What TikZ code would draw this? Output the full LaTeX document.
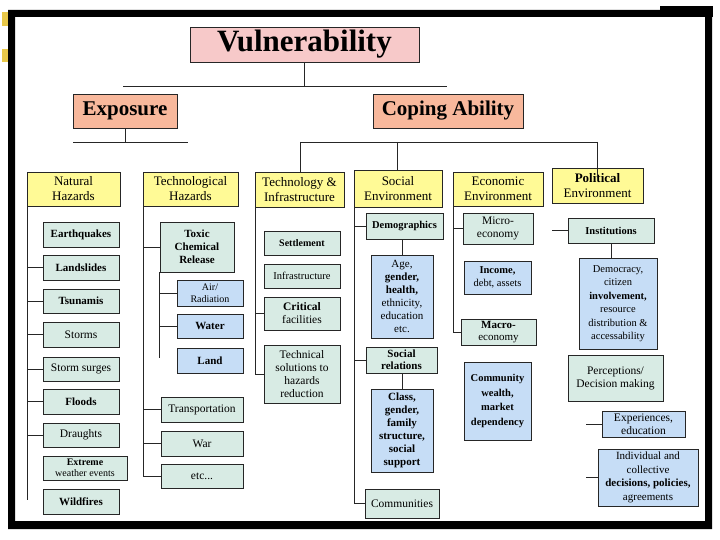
\documentclass[tikz,border=0pt]{standalone}
\usepackage{fontspec}
\setmainfont{Liberation Serif}
\definecolor{pinkc}{HTML}{F7C9C9}
\definecolor{salmonc}{HTML}{F8B89C}
\definecolor{yellowc}{HTML}{FFFA96}
\definecolor{tealc}{HTML}{D8EBE4}
\definecolor{bluec}{HTML}{C6DDF6}
\definecolor{goldc}{HTML}{E8C84A}
\begin{document}
\begin{tikzpicture}[x=1pt,y=-1pt,
  box/.style={draw=black!85, line width=0.9pt, align=center, inner sep=1pt, text=black,
              font=\fontsize{11.5}{13}\selectfont},
  tealbox/.style={box, fill=tealc},
  bluebox/.style={box, fill=bluec},
  hdr/.style={box, fill=yellowc, font=\fontsize{13}{15}\selectfont},
  conn/.style={draw=black!85, line width=0.8pt},
  sz/.style 2 args={minimum width=#1pt, minimum height=#2pt}]
\useasboundingbox (0,0) rectangle (720,540);
\fill[white] (0,0) rectangle (720,540);

% top level
\node[box, fill=pinkc, sz={229}{35}, font=\fontsize{31}{33}\selectfont\bfseries] (vul) at (304.5,44.5) {Vulnerability};
\node[box, fill=salmonc, sz={104}{34}, font=\fontsize{21}{24}\selectfont\bfseries] (expo) at (125,111) {Exposure};
\node[box, fill=salmonc, sz={150}{34}, font=\fontsize{21}{24}\selectfont\bfseries] (cope) at (448,111) {Coping Ability};

% headers
\node[hdr, sz={93}{34}] (nat) at (73.5,189) {Natural\\Hazards};
\node[hdr, sz={95}{34}] (thz) at (190.5,189) {Technological\\Hazards};
\node[hdr, sz={89}{35}] (tinf) at (299.5,189.5) {Technology \&\\Infrastructure};
\node[hdr, sz={88}{37}] (soc) at (398,188.5) {Social\\Environment};
\node[hdr, sz={90}{34}] (eco) at (498,189) {Economic\\Environment};
\node[hdr, sz={91}{35}] (pol) at (597.5,185.5) {{\bfseries Political}\\Environment};

% natural hazards
\node[tealbox, sz={76}{25}, font=\fontsize{11}{13}\selectfont\bfseries] (eq) at (81,234.5) {Earthquakes};
\node[tealbox, sz={76}{25}, font=\fontsize{11}{13}\selectfont\bfseries] (land) at (81,267.5) {Landslides};
\node[tealbox, sz={76}{24}, font=\fontsize{11}{13}\selectfont\bfseries] (tsu) at (81,301) {Tsunamis};
\node[tealbox, sz={76}{25}] (storm) at (81,334.5) {Storms};
\node[tealbox, sz={76}{24}] (surge) at (81,369) {Storm surges};
\node[tealbox, sz={76}{25}, font=\fontsize{11}{13}\selectfont\bfseries] (flood) at (81,401.5) {Floods};
\node[tealbox, sz={76}{24}] (draught) at (81,435) {Draughts};
\node[tealbox, sz={84}{24}, font=\fontsize{10}{11}\selectfont] (extr) at (85,468) {{\bfseries Extreme}\\weather events};
\node[tealbox, sz={76}{25}, font=\fontsize{11}{13}\selectfont\bfseries] (wild) at (81,501.5) {Wildfires};

% technological hazards
\node[tealbox, sz={74}{50}, font=\fontsize{11}{13}\selectfont\bfseries] (toxic) at (197,247) {Toxic\\Chemical\\Release};
\node[bluebox, sz={66}{26}, font=\fontsize{10}{12}\selectfont] (air) at (210,293) {Air/\\Radiation};
\node[bluebox, sz={66}{24}, font=\fontsize{11}{13}\selectfont\bfseries] (water) at (210,326) {Water};
\node[bluebox, sz={66}{25}, font=\fontsize{11}{13}\selectfont\bfseries] (landb) at (210,360.5) {Land};
\node[tealbox, sz={82}{25}] (trans) at (202,409.5) {Transportation};
\node[tealbox, sz={82}{25}] (war) at (202,443.5) {War};
\node[tealbox, sz={82}{24}] (etc) at (202,476) {etc...};

% technology & infrastructure
\node[tealbox, sz={76}{24}, font=\fontsize{10}{12}\selectfont\bfseries] (settl) at (302,243) {Settlement};
\node[tealbox, sz={76}{24}, font=\fontsize{10.5}{12}\selectfont] (infra) at (302,276) {Infrastructure};
\node[tealbox, sz={76}{33}] (crit) at (302,313.5) {{\bfseries Critical}\\facilities};
\node[tealbox, sz={76}{58}] (tech) at (302,374) {Technical\\solutions to\\hazards\\reduction};

% social environment
\node[tealbox, sz={77}{26}, font=\fontsize{10.5}{12}\selectfont\bfseries] (demo) at (404.5,226) {Demographics};
\node[bluebox, sz={62}{83}, font=\fontsize{11}{13}\selectfont] (age) at (402,296.5) {Age,\\{\bfseries gender,}\\{\bfseries health,}\\ethnicity,\\education\\etc.};
\node[tealbox, sz={71}{26}, font=\fontsize{11}{12}\selectfont\bfseries] (srel) at (401.5,360) {Social\\relations};
\node[bluebox, sz={62}{83}, font=\fontsize{11}{13}\selectfont\bfseries] (class) at (402,430.5) {Class,\\gender,\\family\\structure,\\social\\support};
\node[tealbox, sz={74}{29}] (comm) at (402,503.5) {Communities};

% economic environment
\node[tealbox, sz={70}{31}] (micro) at (498,228.5) {Micro-\\economy};
\node[bluebox, sz={67}{33}, font=\fontsize{10.5}{12.5}\selectfont] (inc) at (497.5,277.5) {{\bfseries Income,}\\debt, assets};
\node[tealbox, sz={75}{26}, font=\fontsize{11}{12}\selectfont] (macro) at (498.5,332) {{\bfseries Macro-}\\economy};
\node[bluebox, sz={67}{78}, font=\fontsize{10.5}{14.5}\selectfont\bfseries] (cw) at (497.5,401) {Community\\wealth,\\market\\dependency};

% political environment
\node[tealbox, sz={86}{25}, font=\fontsize{10.5}{12}\selectfont\bfseries] (inst) at (611,230.5) {Institutions};
\node[bluebox, sz={78}{91}, font=\fontsize{10.5}{13.5}\selectfont] (dem) at (618,303.5) {Democracy,\\citizen\\{\bfseries involvement,}\\resource\\distribution \&\\accessability};
\node[tealbox, sz={95}{46}] (perc) at (615.5,378) {Perceptions/\\Decision making};
\node[bluebox, sz={83}{26}] (exper) at (643.5,424) {Experiences,\\education};
\node[bluebox, sz={100}{57}, font=\fontsize{11}{13.5}\selectfont] (indiv) at (648,477.5) {Individual and\\collective\\{\bfseries decisions, policies,}\\agreements};

% junction coordinates
\coordinate (vl) at (123,86);
\coordinate (vr) at (447,86);
\coordinate (el) at (73,142);
\coordinate (er) at (188,142);
\coordinate (cl) at (300,142);
\coordinate (cm) at (397,142);
\coordinate (cr) at (597,142);
\coordinate (pin) at (597,178);
\coordinate (nt) at (27,206);
\coordinate (nb) at (27,500);
\coordinate (ht) at (143,206);
\coordinate (hb) at (143,476);
\coordinate (h2t) at (159,272);
\coordinate (h2b) at (159,358);
\coordinate (it) at (255,207);
\coordinate (ib) at (255,374);
\coordinate (st) at (354,207);
\coordinate (sb) at (354,503.5);
\coordinate (et) at (453,197);
\coordinate (eb) at (453,332);
\coordinate (pl) at (552,230);
\coordinate (pe) at (586,430);

% connectors
\draw[conn] (vul.south) -- (vul.south |- vl);
\draw[conn] (vl) -- (vr);
\draw[conn] (expo.south) -- (expo.south |- el);
\draw[conn] (el) -- (er);
\draw[conn] (cl) -- (cr);
\draw[conn] (cl) -- (cl |- tinf.north);
\draw[conn] (cm) -- (cm |- soc.north);
\draw[conn] (cr) -- (pin);

\draw[conn] (nt) -- (nb);
\foreach \b in {land,tsu,storm,surge,flood,draught}
  \draw[conn] (\b.west) -- (\b.west -| nt);

\draw[conn] (ht) -- (hb);
\foreach \b in {toxic,trans,war,etc}
  \draw[conn] (\b.west) -- (\b.west -| ht);
\draw[conn] (h2t) -- (h2b);
\foreach \b in {air,water}
  \draw[conn] (\b.west) -- (\b.west -| h2t);

\draw[conn] (it) -- (ib);
\foreach \b in {crit,tech}
  \draw[conn] (\b.west) -- (\b.west -| it);

\draw[conn] (st) -- (sb);
\foreach \b in {demo,srel,comm}
  \draw[conn] (\b.west) -- (\b.west -| st);
\draw[conn] (age.north) -- (age.north |- demo.south);
\draw[conn] (class.north) -- (class.north |- srel.south);

\draw[conn] (et) -- (eb);
\foreach \b in {micro,macro}
  \draw[conn] (\b.west) -- (\b.west -| et);

\draw[conn] (inst.west) -- (inst.west -| pl);
\draw[conn] (inst.south) -- (inst.south |- dem.north);
\foreach \b in {exper,indiv}
  \draw[conn] (\b.west) -- (\b.west -| pe);

% frame
\fill[black, even odd rule] (8,10) rectangle (712,529) (15,17) rectangle (705,521);
\fill[black] (660,6) rectangle (713,17);
\fill[goldc] (2,12) rectangle (8,26);
\fill[goldc] (2,49) rectangle (8,62);
\end{tikzpicture}
\end{document}
